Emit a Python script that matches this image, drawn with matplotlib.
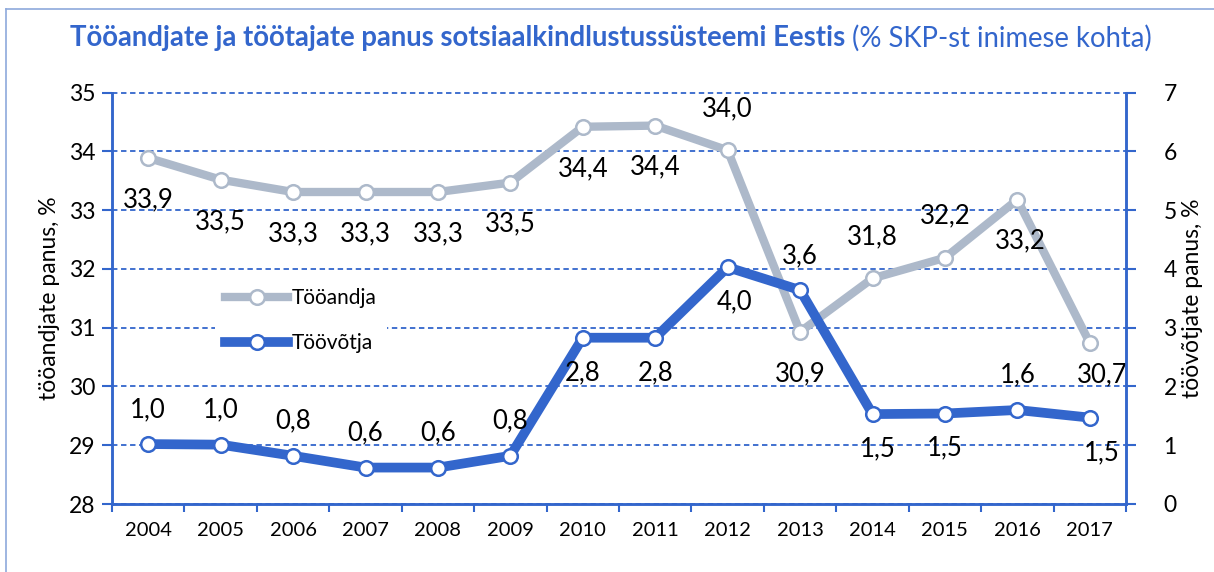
import matplotlib
matplotlib.use("Agg")
import matplotlib.pyplot as plt
from matplotlib.lines import Line2D

plt.rcParams['font.family'] = ['Lato', 'DejaVu Sans']

years = ['2004', '2005', '2006', '2007', '2008', '2009', '2010', '2011',
         '2012', '2013', '2014', '2015', '2016', '2017']
employer = [33.89, 33.52, 33.31, 33.31, 33.31, 33.47, 34.42, 34.44,
            34.02, 30.93, 31.84, 32.19, 33.18, 30.74]
employee = [1.02, 1.01, 0.82, 0.62, 0.62, 0.82, 2.83, 2.83,
            4.03, 3.64, 1.53, 1.54, 1.60, 1.47]
employer_name = 'Tööandja'
employee_name = 'Töövõtja'

# label placement: +1 above, -1 below
employer_pos = [-1, -1, -1, -1, -1, -1, -1, -1, 1, -1, 1, 1, -1, -1]
employee_pos = [1, 1, 1, 1, 1, 1, -1, -1, -1, 1, -1, -1, 1, -1]

BLUE = '#3366CC'
GRAY = '#ADB9CA'

W, H = 1214, 572
fig = plt.figure(figsize=(W / 100, H / 100), dpi=100)
ax = fig.add_axes([112 / W, 1 - 504 / H, (1126 - 112) / W, (504 - 92.7) / H])
ax2 = ax.twinx()

x = list(range(len(years)))

ax.plot(x, employer, color=GRAY, lw=6, marker='o', ms=10.5, mfc='white',
        mec=GRAY, mew=1.8, solid_joinstyle='round', zorder=3, clip_on=False)
ax2.plot(x, employee, color=BLUE, lw=7, marker='o', ms=10.5, mfc='white',
         mec=BLUE, mew=1.8, solid_joinstyle='round', zorder=3, clip_on=False)

def fmt(v):
    return f"{v:.1f}".replace('.', ',')

for i, (v, p) in enumerate(zip(employer, employer_pos)):
    dx = 9 if i == 13 else (2 if i == 12 else 0)
    dy = 30 * p
    if i == 13:
        dy = -23
    ax.annotate(fmt(v), (i, v), xytext=(dx, dy), textcoords='offset points',
                ha='center', va='center', fontsize=18.5, color='#000000', zorder=5)
for i, (v, p) in enumerate(zip(employee, employee_pos)):
    dx = 0
    if i == 13:
        dx = 9
    elif i == 10:
        dx = 4
    elif i == 8:
        dx = 5
    ax2.annotate(fmt(v), (i, v), xytext=(dx, 25 * p), textcoords='offset points',
                 ha='center', va='center', fontsize=18.5, color='#000000', zorder=5)

ax.set_xlim(-0.5, len(years) - 0.5)
ax.set_ylim(28, 35)
ax2.set_ylim(0, 7)
ax.set_yticks(range(28, 36))
ax2.set_yticks(range(0, 8))

ax.set_xticks([i - 0.5 for i in range(len(years) + 1)])
ax.set_xticklabels([])
ax.set_xticks(x, minor=True)
ax.set_xticklabels(years, minor=True)
ax.tick_params(axis='x', which='major', length=6, width=1.5, color=BLUE, direction='out')
ax.tick_params(axis='x', which='minor', length=0, pad=13, labelsize=14.5)
ax.tick_params(axis='y', length=7, width=1.5, color=BLUE, labelsize=16.5, pad=5)
ax2.tick_params(axis='y', length=7, width=1.5, color=BLUE, labelsize=16.5, pad=20)

ax.grid(axis='y', color=BLUE, linestyle=(0, (3, 2)), lw=1.3)
ax.set_axisbelow(True)
for gl in ax.get_ygridlines():
    gl.set_clip_on(False)
for a in (ax, ax2):
    a.spines['top'].set_visible(False)
    for s in ('left', 'right', 'bottom'):
        a.spines[s].set_color(BLUE)
        a.spines[s].set_linewidth(1.8)

ax.set_ylabel('tööandjate panus, %', fontsize=16.5, labelpad=6)
ax2.set_ylabel('töövõtjate panus, %', fontsize=16.5, labelpad=4)

handles = [Line2D([], [], color=GRAY, lw=6, marker='o', ms=10.5, mfc='white', mec=GRAY, mew=1.8),
           Line2D([], [], color=BLUE, lw=7, marker='o', ms=10.5, mfc='white', mec=BLUE, mew=1.8)]
leg = ax2.legend(handles, [employer_name, employee_name], loc='upper left',
                 bbox_to_anchor=((215 - 112) / 1014, (504 - 278) / 411.3),
                 frameon=True, fancybox=False, facecolor='white', edgecolor='none',
                 framealpha=1, fontsize=15, handlelength=3.0, handletextpad=0.2,
                 labelspacing=1.2, borderpad=0.5, borderaxespad=0)
leg.set_zorder(10)

t1 = fig.text(70 / W, 1 - 38 / H, 'Tööandjate ja töötajate panus sotsiaalkindlustussüsteemi Eestis',
              fontsize=19.8, fontweight='bold', color=BLUE, ha='left', va='center')
t2 = fig.text(0, 1 - 38 / H, '(% SKP-st inimese kohta)',
              fontsize=19.8, color=BLUE, ha='left', va='center')
fig.canvas.draw()
e1 = t1.get_window_extent()
e2 = t2.get_window_extent()
gap = 6
total = e1.width + gap + e2.width
start = 611 - total / 2
t1.set_x(start / W)
t2.set_x((start + e1.width + gap) / W)

# figure frame (top and left)
fig.add_artist(Line2D([6 / W, 1], [1 - 9 / H, 1 - 9 / H], color='#8EA9DB', lw=1.2))
fig.add_artist(Line2D([6 / W, 6 / W], [1 - 9 / H, 0], color='#8EA9DB', lw=1.2))

fig.savefig('out.png', dpi=100)
